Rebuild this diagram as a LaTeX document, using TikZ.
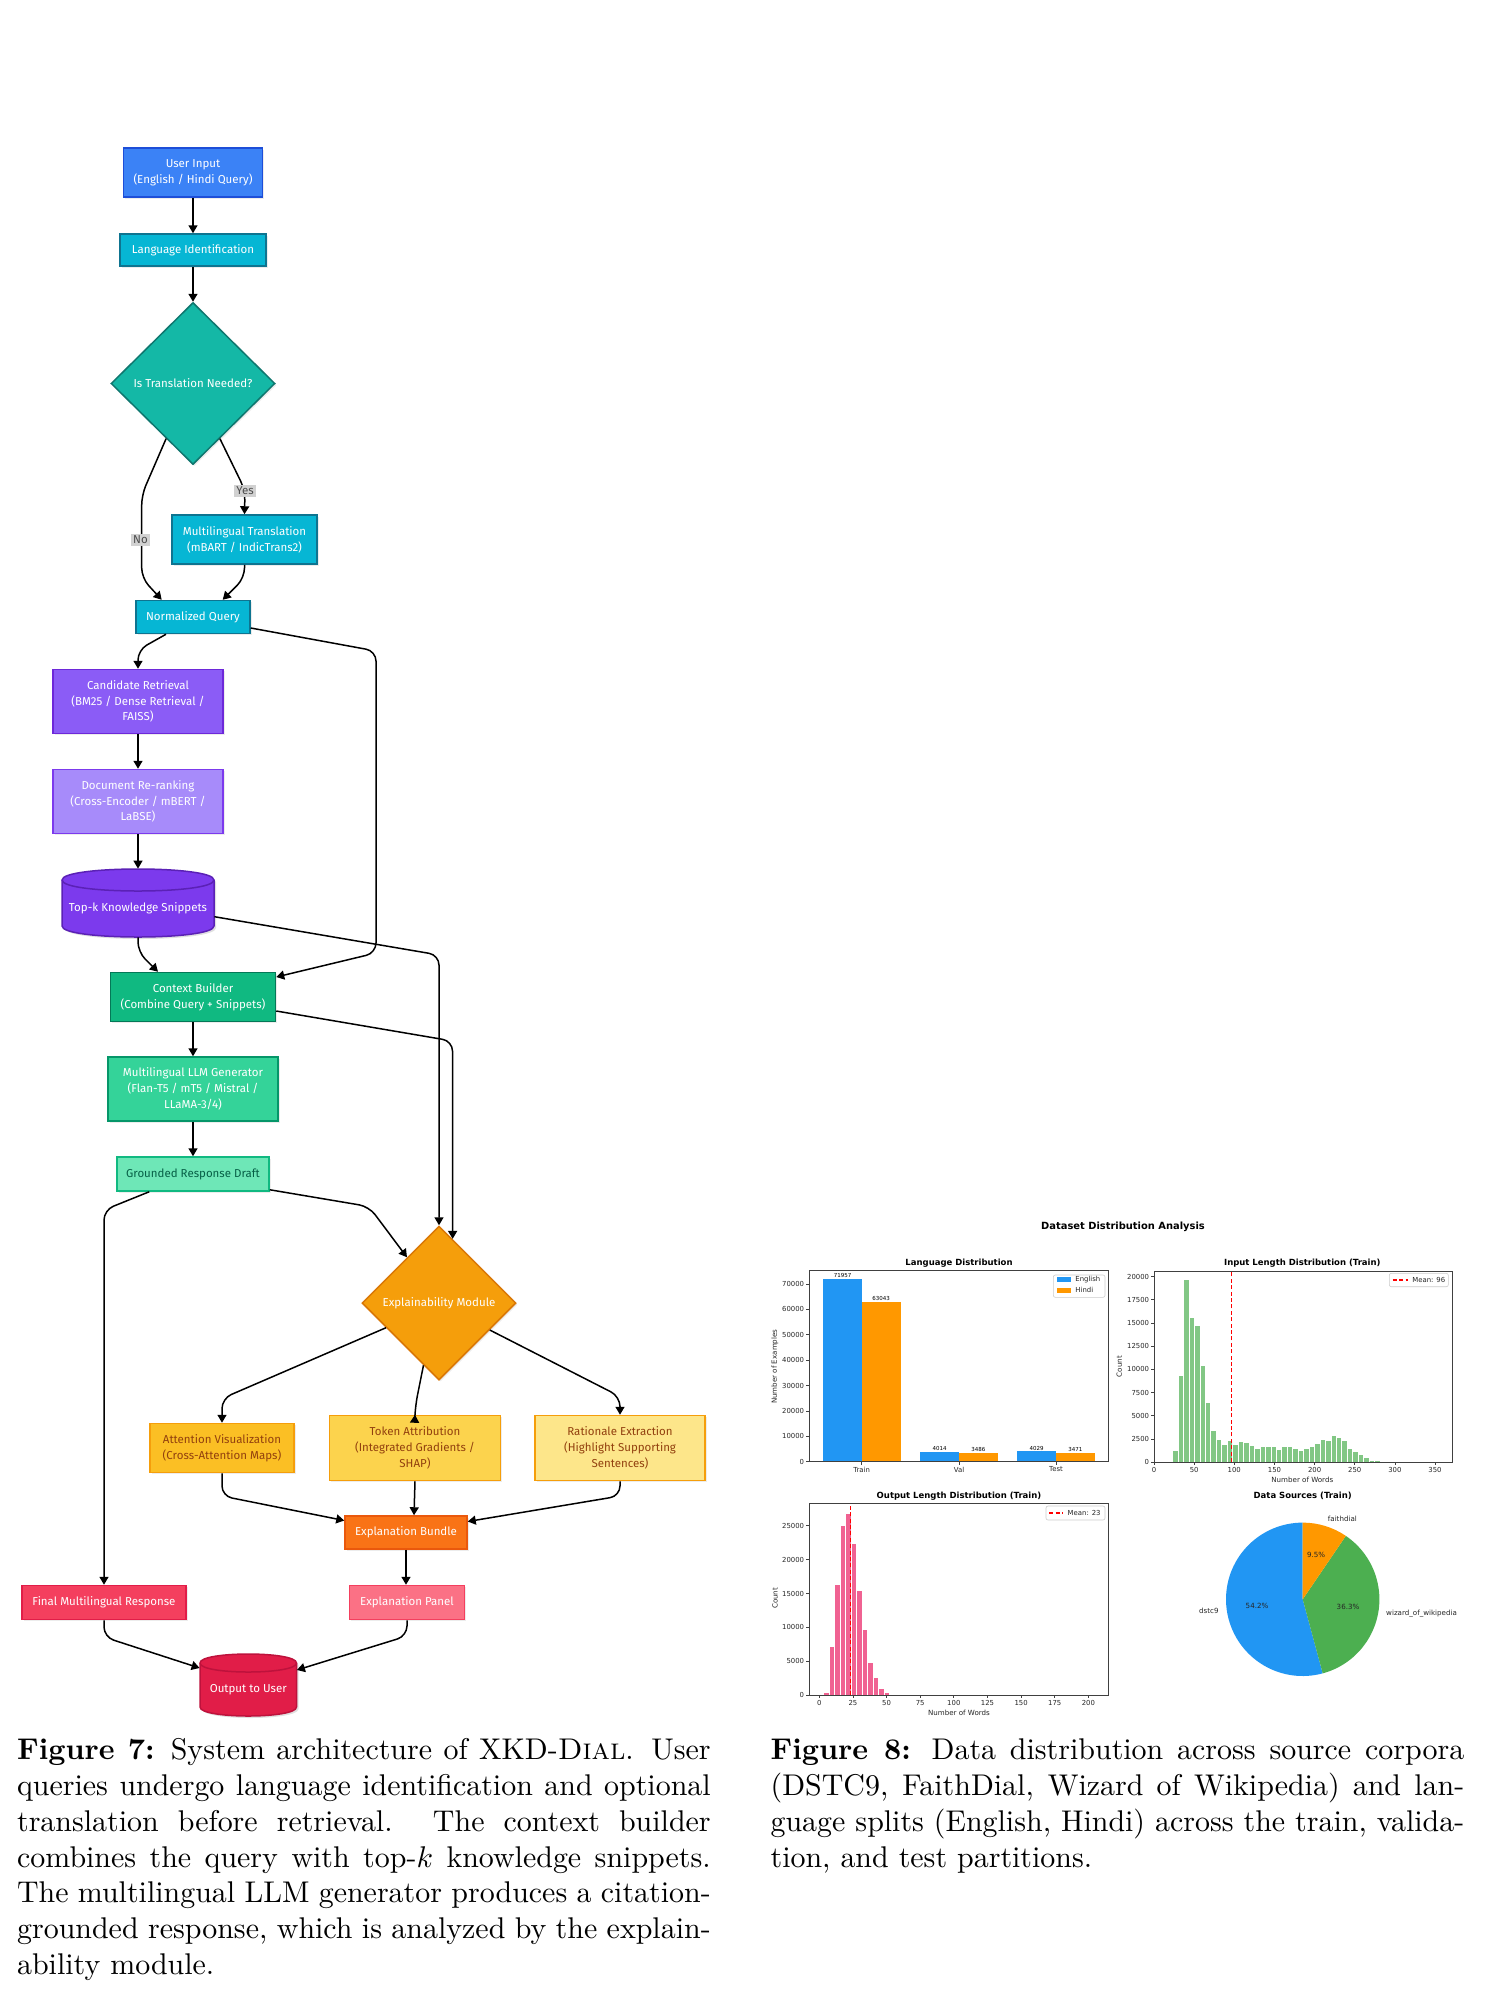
\documentclass[tikz,border=0pt]{standalone}
\usepackage{fontspec}
\usetikzlibrary{shapes.geometric,arrows.meta,calc,shadows}
\newfontfamily\firafont{Fira Sans}
\newfontfamily\dvs{DejaVu Sans}
\newcommand\flowf{\firafont\fontsize{5.75}{7.85}\selectfont}
\newcommand\tickf{\dvs\fontsize{3.45}{4.1}\selectfont}
\newcommand\axlf{\dvs\fontsize{3.55}{4.2}\selectfont}
\newcommand\titlef{\dvs\bfseries\fontsize{4.25}{5.1}\selectfont}
\newcommand\suptf{\dvs\bfseries\fontsize{4.95}{5.9}\selectfont}
\newcommand\valf{\dvs\fontsize{2.75}{3.3}\selectfont}
\newcommand\capf{\rmfamily\fontsize{10}{11.97}\selectfont}
\definecolor{uiF}{HTML}{3B82F6}\definecolor{uiD}{HTML}{1D4ED8}
\definecolor{cyF}{HTML}{06B6D4}\definecolor{cyD}{HTML}{0E7490}
\definecolor{teF}{HTML}{14B8A6}\definecolor{teD}{HTML}{0F766E}
\definecolor{crF}{HTML}{8B5CF6}\definecolor{crD}{HTML}{6D28D9}
\definecolor{drF}{HTML}{A78BFA}\definecolor{drD}{HTML}{7C3AED}
\definecolor{tkF}{HTML}{7C3AED}\definecolor{tkD}{HTML}{5B21B6}
\definecolor{cbF}{HTML}{10B981}\definecolor{cbD}{HTML}{047857}
\definecolor{lmF}{HTML}{34D399}\definecolor{lmD}{HTML}{059669}
\definecolor{grF}{HTML}{6EE7B7}\definecolor{grD}{HTML}{10B981}\definecolor{grT}{HTML}{065F46}
\definecolor{exF}{HTML}{F59E0B}\definecolor{exD}{HTML}{D97706}
\definecolor{atF}{HTML}{FBBF24}\definecolor{toF}{HTML}{FCD34D}\definecolor{raF}{HTML}{FDE68A}
\definecolor{yeD}{HTML}{F59E0B}\definecolor{yeT}{HTML}{92400E}
\definecolor{buF}{HTML}{F97316}\definecolor{buD}{HTML}{EA580C}
\definecolor{fiF}{HTML}{F43F5E}\definecolor{fiD}{HTML}{E11D48}
\definecolor{paF}{HTML}{FB7185}\definecolor{paD}{HTML}{F43F5E}
\definecolor{ouF}{HTML}{E11D48}\definecolor{ouD}{HTML}{BE123C}
\definecolor{mBlue}{HTML}{2196F3}\definecolor{mOrange}{HTML}{FF9800}\definecolor{mGreen}{HTML}{4CAF50}
\definecolor{hGreen}{HTML}{82C785}\definecolor{hPink}{HTML}{F06292}
\tikzset{
 fbox/.style={draw, line width=0.75pt, align=center, inner sep=0pt, font=\flowf, text=white,
   drop shadow={shadow xshift=0.8pt, shadow yshift=-0.8pt, opacity=0.15}},
 fdia/.style={fbox, diamond, aspect=1},
 conn/.style={line width=0.75pt, -{Triangle[length=4pt,width=4.5pt]}, rounded corners=5pt},
 lbl/.style={fill=black!18, text=black!70, font=\flowf, inner sep=1.2pt},
 spine/.style={draw=black!75, line width=0.4pt},
 tick/.style={draw=black!75, line width=0.35pt},
 ticklab/.style={font=\tickf, text=black!85, inner sep=0.5pt},
 axlab/.style={font=\axlf, text=black!85, inner sep=0pt},
 ctitle/.style={font=\titlef, inner sep=0pt},
 meanline/.style={draw=red, line width=0.55pt, dash pattern=on 2pt off 1.2pt},
 legbox/.style={draw=black!20, fill=white, line width=0.3pt, rounded corners=1pt},
 histbar/.style={draw=white, line width=0.25pt},
}
\begin{document}
\begin{tikzpicture}[x=0.5pt, y=-0.5pt]
\useasboundingbox (0,0) rectangle (1494,1996);
\fill[white] (0,0) rectangle (1494,1996);

% ---------------- flowchart nodes ----------------
\node[fbox, fill=uiF, draw=uiD, minimum width=69.5pt, minimum height=24.5pt] (ui) at (193,172.5) {User Input\\(English / Hindi Query)};
\node[fbox, fill=cyF, draw=cyD, minimum width=73pt, minimum height=16pt] (lid) at (193,250) {Language Identification};
\node[fdia, fill=teF, draw=teD, minimum width=82pt, minimum height=81pt] (dec) at (193,383.5) {Is Translation Needed?};
\node[fbox, fill=cyF, draw=cyD, minimum width=72.5pt, minimum height=24.5pt] (mt) at (244.5,539.5) {Multilingual Translation\\(mBART / IndicTrans2)};
\node[fbox, fill=cyF, draw=cyD, minimum width=57pt, minimum height=16.5pt] (nq) at (193,617) {Normalized Query};
\node[fbox, fill=crF, draw=crD, minimum width=85pt, minimum height=32pt] (cr) at (138,701.5) {Candidate Retrieval\\(BM25 / Dense Retrieval /\\FAISS)};
\node[fbox, fill=drF, draw=drD, minimum width=85pt, minimum height=32pt] (dr) at (138,801.5) {Document Re-ranking\\(Cross-Encoder / mBERT /\\LaBSE)};

% cylinder: top-k
\fill[black, opacity=0.12] (64,882) -- (64,928) .. controls (64,942.67) and (216,942.67) .. (216,928) -- (216,882) .. controls (216,867.33) and (64,867.33) .. (64,882) -- cycle;
\filldraw[fill=tkF, draw=tkD, line width=0.75pt] (62,880) -- (62,926) .. controls (62,940.67) and (214,940.67) .. (214,926) -- (214,880) .. controls (214,865.33) and (62,865.33) .. (62,880) -- cycle;
\draw[tkD, line width=0.75pt] (62,880) .. controls (62,894.67) and (214,894.67) .. (214,880);
\node[inner sep=0pt, minimum width=76pt, minimum height=34pt] (topk) at (138,903) {};
\node[font=\flowf, text=white, inner sep=0pt] (topktxt) at (138,908) {Top-k Knowledge Snippets};

\node[fbox, fill=cbF, draw=cbD, minimum width=82.5pt, minimum height=24.5pt] (cb) at (193,997) {Context Builder\\(Combine Query + Snippets)};
\node[fbox, fill=lmF, draw=lmD, minimum width=85pt, minimum height=32pt] (llm) at (193,1089) {Multilingual LLM Generator\\(Flan-T5 / mT5 / Mistral /\\LLaMA-3/4)};
\node[fbox, fill=grF, draw=grD, text=grT, minimum width=76pt, minimum height=17pt] (grd) at (193,1174) {Grounded Response Draft};
\node[fdia, fill=exF, draw=exD, minimum width=77pt, minimum height=77pt] (exp) at (439,1303) {Explainability Module};
\node[fbox, fill=atF, draw=yeD, text=yeT, minimum width=72pt, minimum height=24.5pt] (att) at (222,1448) {Attention Visualization\\(Cross-Attention Maps)};
\node[fbox, fill=toF, draw=yeD, text=yeT, minimum width=85.5pt, minimum height=32.5pt] (tok) at (415,1448) {Token Attribution\\(Integrated Gradients /\\SHAP)};
\node[fbox, fill=raF, draw=yeD, text=yeT, minimum width=85pt, minimum height=32.5pt] (rat) at (620,1448) {Rationale Extraction\\(Highlight Supporting\\Sentences)};
\node[fbox, fill=buF, draw=buD, minimum width=61pt, minimum height=16.5pt] (bun) at (406,1532.5) {Explanation Bundle};
\node[fbox, fill=fiF, draw=fiD, minimum width=82pt, minimum height=17pt] (fin) at (104,1602.5) {Final Multilingual Response};
\node[fbox, fill=paF, draw=paD, minimum width=57.5pt, minimum height=17pt] (pan) at (407,1602.5) {Explanation Panel};

% cylinder: output
\fill[black, opacity=0.12] (202,1665) -- (202,1709) .. controls (202,1721) and (298.5,1721) .. (298.5,1709) -- (298.5,1665) .. controls (298.5,1653) and (202,1653) .. (202,1665) -- cycle;
\filldraw[fill=ouF, draw=ouD, line width=0.75pt] (200,1663) -- (200,1707) .. controls (200,1719) and (296.5,1719) .. (296.5,1707) -- (296.5,1663) .. controls (296.5,1651) and (200,1651) .. (200,1663) -- cycle;
\draw[ouD, line width=0.75pt] (200,1663) .. controls (200,1675) and (296.5,1675) .. (296.5,1663);
\node[inner sep=0pt, minimum width=48.25pt, minimum height=31pt] (out) at (248.25,1685) {};
\node[font=\flowf, text=white, inner sep=0pt] (outtxt) at (248.25,1690) {Output to User};

% ---------------- connectors ----------------
\draw[conn] (ui.south) -- (lid.north);
\draw[conn] (lid.south) -- (dec.north);
\draw[conn] (dec.-64) -- (245,490) -- (mt.north);
\draw[conn] (dec.-116) -- (141.7,495) -- (141.7,578) -- ($(nq.north)+(-31.3,0)$);
\draw[conn] (mt.south) -- (244.5,578) -- ($(nq.north)+(29.7,0)$);
\draw[conn] ($(nq.south)+(-27,0)$) -- (138,650) -- (cr.north);
\draw[conn] (cr.south) -- (dr.north);
\draw[conn] (dr.south) -- (topk.north);
\draw[conn] (topk.south) -- (138,952) -- ($(cb.north)+(-35,0)$);
\draw[conn] ($(nq.east)+(0,11)$) -- (376,651) -- (376,953) -- ($(cb.east)+(0,-20)$);
\draw[conn] ($(topk.east)+(0,13.7)$) -- (439,955) -- (exp.north);
\draw[conn] ($(cb.east)+(0,14)$) -- (452.5,1041) -- (exp.78);
\draw[conn] (cb.south) -- (llm.north);
\draw[conn] (llm.south) -- (grd.north);
\draw[conn] ($(grd.south east)+(0,-2)$) -- (369,1206.5) -- (exp.125);
\draw[conn] ($(grd.south west)+(33,0)$) -- (104,1210) -- (fin.north);
\draw[conn] (exp.205) -- (222,1398.5) -- (att.north);
\draw[conn] (exp.-104) -- (415.5,1405) -- (tok.north);
\draw[conn] (exp.-28) -- (620,1396.5) -- (rat.north);
\draw[conn] (att.south) -- (222,1496) -- ($(bun.west)+(0,-12)$);
\draw[conn] (tok.south) -- ($(bun.north)+(8,0)$);
\draw[conn] (rat.south) -- (620,1496) -- ($(bun.east)+(0,-11)$);
\draw[conn] (bun.south) -- (bun.south |- pan.north);
\draw[conn] (fin.south) -- (104,1637) -- ($(out.west)+(0,-17)$);
\draw[conn] (pan.south) -- (407,1636) -- ($(out.east)+(0,-15)$);
\node[lbl] (yes) at (245,491) {Yes};
\node[lbl] (no) at (140.5,540) {No};

% ---------------- charts ----------------
\node[font=\suptf, inner sep=0pt] (suptitle) at (1123,1227) {Dataset Distribution Analysis};

% Language distribution
\node[ctitle] (t1) at (959,1262.7) {Language Distribution};
\fill[mBlue] (823.3,1461.7) rectangle (861.7,1279.0);
\fill[mOrange] (861.7,1461.7) rectangle (900.7,1301.7);
\fill[mBlue] (920.3,1461.7) rectangle (959,1451.5);
\fill[mOrange] (959,1461.7) rectangle (997.7,1452.85);
\fill[mBlue] (1017.3,1461.7) rectangle (1056,1451.47);
\fill[mOrange] (1056,1461.7) rectangle (1094.7,1452.9);
\node[font=\valf, anchor=south, inner sep=0.4pt] at (842.5,1279) {71957};
\node[font=\valf, anchor=south, inner sep=0.4pt] at (881.2,1301.7) {63043};
\node[font=\valf, anchor=south, inner sep=0.4pt] at (939.65,1451.5) {4014};
\node[font=\valf, anchor=south, inner sep=0.4pt] at (978.35,1452.85) {3486};
\node[font=\valf, anchor=south, inner sep=0.4pt] at (1036.65,1451.47) {4029};
\node[font=\valf, anchor=south, inner sep=0.4pt] at (1075.35,1452.9) {3471};
\draw[spine] (809.3,1270) rectangle (1108.7,1461.7);
\foreach \k/\lab in {0/0,1/10000,2/20000,3/30000,4/40000,5/50000,6/60000,7/70000} {
  \draw[tick] (809.3,{1461.7-25.386*\k}) -- (806.3,{1461.7-25.386*\k});
  \node[ticklab, anchor=east] at (805.5,{1461.7-25.386*\k}) {\lab};
}
\foreach \xx/\nm in {861.7/Train,959/Val,1056/Test} {
  \draw[tick] (\xx,1461.7) -- (\xx,1464.7);
  \node[ticklab, anchor=north] at (\xx,1465.5) {\nm};
}
\node[axlab, rotate=90] at (775,1366.7) {Number of Examples};
\draw[legbox] (1053.3,1275) rectangle (1105,1297.3);
\fill[mBlue] (1056.7,1276.9) rectangle (1070.7,1281.9);
\node[ticklab, anchor=west] at (1074,1279.4) {English};
\fill[mOrange] (1056.7,1287.8) rectangle (1070.7,1292.8);
\node[ticklab, anchor=west] at (1074,1290.3) {Hindi};

% Input length distribution (heights in hundreds)
\node[ctitle] (t2) at (1302.3,1262.7) {Input Length Distribution (Train)};
\foreach \h [count=\i from 0] in {13,94,197,156,148,104,65,34,25,19,23,19,22,21,18,15,17,17,17,14,17,16.5,15,13,15,17,20,25,24,29,27,24,15,12,8,5,2,1.5,0.5,0.2}
  \filldraw[histbar, fill=hGreen] ({1154+0.8029*(23+6.8*\i)},1462) rectangle ({1154+0.8029*(23+6.8*(\i+1))},{1462-0.92667*\h});
\draw[meanline] (1231.1,1462) -- (1231.1,1271.7);
\draw[spine] (1154.3,1271.7) rectangle (1452.3,1462);
\foreach \k/\lab in {0/0,1/2500,2/5000,3/7500,4/10000,5/12500,6/15000,7/17500,8/20000} {
  \draw[tick] (1154.3,{1462-23.167*\k}) -- (1151.3,{1462-23.167*\k});
  \node[ticklab, anchor=east] at (1150.5,{1462-23.167*\k}) {\lab};
}
\foreach \k/\lab in {0/0,1/50,2/100,3/150,4/200,5/250,6/300,7/350} {
  \draw[tick] ({1154+40.145*\k},1462) -- ({1154+40.145*\k},1465);
  \node[ticklab, anchor=north] at ({1154+40.145*\k},1465.8) {\lab};
}
\node[axlab, rotate=90] at (1119.3,1366.7) {Count};
\node[axlab] at (1302.3,1480) {Number of Words};
\draw[legbox] (1389.3,1273.3) rectangle (1448.3,1286.7);
\draw[meanline] (1392.7,1280) -- (1408.3,1280);
\node[ticklab, anchor=west] at (1411,1280) {Mean: 96};

% Output length distribution (heights in hundreds)
\node[ctitle] (t3) at (959,1495.7) {Output Length Distribution (Train)};
\foreach \h [count=\i from 0] in {5,72,163,250,269,224,155,97,49,26,11,4,2,0.8,0.3,0.1}
  \filldraw[histbar, fill=hPink] ({819.3+1.3453*(2.97+4.09*\i)},1695.3) rectangle ({819.3+1.3453*(2.97+4.09*(\i+1))},{1695.3-0.6787*\h});
\draw[meanline] (850.2,1695.3) -- (850.2,1503.3);
\draw[spine] (809.3,1503.3) rectangle (1108.3,1695.3);
\foreach \k/\lab in {0/0,1/5000,2/10000,3/15000,4/20000,5/25000} {
  \draw[tick] (809.3,{1695.3-33.935*\k}) -- (806.3,{1695.3-33.935*\k});
  \node[ticklab, anchor=east] at (805.5,{1695.3-33.935*\k}) {\lab};
}
\foreach \k/\lab in {0/0,1/25,2/50,3/75,4/100,5/125,6/150,7/175,8/200} {
  \draw[tick] ({819.3+33.63*\k},1695.3) -- ({819.3+33.63*\k},1698.3);
  \node[ticklab, anchor=north] at ({819.3+33.63*\k},1699) {\lab};
}
\node[axlab, rotate=90] at (775,1598.3) {Count};
\node[axlab] at (959,1713.3) {Number of Words};
\draw[legbox] (1046,1506) rectangle (1105,1520);
\draw[meanline] (1049.3,1513) -- (1063.3,1513);
\node[ticklab, anchor=west] at (1066.3,1513) {Mean: 23};

% Pie
\node[ctitle] (t4) at (1302.7,1495.7) {Data Sources (Train)};
\begin{scope}[shift={(1302.7,1599.3)}, yscale=-1]
\fill[mBlue] (0,0) -- (90:76.7) arc[start angle=90, end angle=285.12, radius=76.7] -- cycle;
\fill[mGreen] (0,0) -- (285.12:76.7) arc[start angle=285.12, end angle=415.8, radius=76.7] -- cycle;
\fill[mOrange] (0,0) -- (55.8:76.7) arc[start angle=55.8, end angle=90, radius=76.7] -- cycle;
\end{scope}
\node[axlab, anchor=east] at (1219,1610.4) {dstc9};
\node[axlab, anchor=west] at (1385.8,1613.3) {wizard\_of\_wikipedia};
\node[axlab, anchor=west] at (1327.5,1518.7) {faithdial};
\node[axlab] at (1257,1605.4) {54.2\%};
\node[axlab] at (1348,1607) {36.3\%};
\node[axlab] at (1316,1555.3) {9.5\%};

% ---------------- captions ----------------
\begin{scope}[shift={(16.5,1759.5)}]
\node[anchor=base west, inner sep=0pt, scale=1.4975, transform shape] (cap7) at (0,0) {\parbox[t]{231.6pt}{\capf
\hbox to\hsize{\textbf{Figure 7:} System architecture of XKD-\textsc{Dial}. User}
\hbox to\hsize{queries undergo language identification and optional}
\hbox to\hsize{translation before retrieval. The context builder}
\hbox to\hsize{combines the query with top-$k$ knowledge snippets.}
\hbox to\hsize{The multilingual LLM generator produces a citation-}
\hbox to\hsize{grounded response, which is analyzed by the explain-}
\hbox{ability module.}}};
\end{scope}
\begin{scope}[shift={(770,1759.5)}]
\node[anchor=base west, inner sep=0pt, scale=1.4975, transform shape] (cap8) at (0,0) {\parbox[t]{231.6pt}{\capf
\hbox to\hsize{\textbf{Figure 8:} Data distribution across source corpora}
\hbox to\hsize{(DSTC9, FaithDial, Wizard of Wikipedia) and lan-}
\hbox to\hsize{guage splits (English, Hindi) across the train, valida-}
\hbox{tion, and test partitions.}}};
\end{scope}
\end{tikzpicture}
\end{document}
